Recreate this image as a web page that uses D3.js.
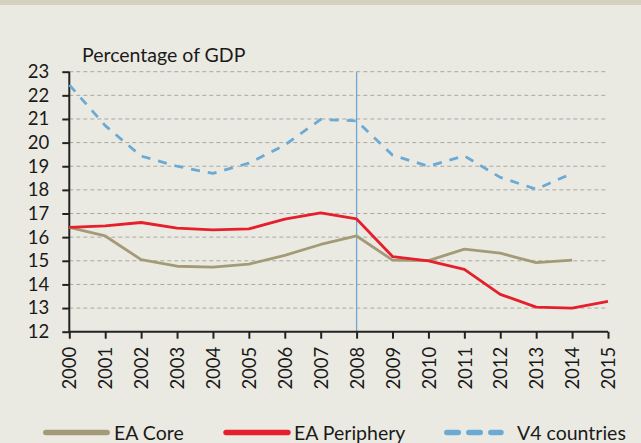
<!DOCTYPE html>
<html>
<head>
<meta charset="utf-8">
<script src="https://cdn.jsdelivr.net/npm/d3@7"></script>
<style>
  html, body { margin: 0; padding: 0; background: #ebeae2; }
  svg text { font-family: Lato, "Open Sans", sans-serif; fill: #1a1a1a; }
</style>
</head>
<body>
<div id="chart"></div>
<script>
const years = [2000, 2001, 2002, 2003, 2004, 2005, 2006, 2007, 2008, 2009, 2010, 2011, 2012, 2013, 2014, 2015];
const eaCore = [16.41, 16.05, 15.05, 14.77, 14.73, 14.86, 15.23, 15.69, 16.05, 15.03, 15.01, 15.49, 15.32, 14.92, 15.03, null];
const eaPeriphery = [16.41, 16.48, 16.62, 16.38, 16.31, 16.35, 16.76, 17.03, 16.77, 15.18, 15.0, 14.64, 13.58, 13.04, 13.0, 13.28];
const v4 = [22.44, 20.72, 19.43, 19.0, 18.7, 19.13, 19.9, 20.98, 20.92, 19.47, 19.0, 19.44, 18.53, 18.03, 18.7, null];
const yTicks = [12, 13, 14, 15, 16, 17, 18, 19, 20, 21, 22, 23];
const markerYear = 2008;

const W = 641, H = 443;
const mLeft = 69.3, mRight = 608, mTop = 71.7, mBottom = 331.7;
const font = "Lato, sans-serif";

const svg = d3.select("#chart").append("svg")
  .attr("width", W).attr("height", H);

svg.append("rect").attr("width", W).attr("height", H).attr("fill", "#ebeae2");
svg.append("rect").attr("width", W).attr("height", 5).attr("fill", "#d4d1bf");

const x = d3.scaleLinear().domain([2000, 2015]).range([mLeft, mRight]);
const y = d3.scaleLinear().domain([12, 23]).range([mBottom, mTop]);

// gridlines
svg.append("g")
  .selectAll("line")
  .data(yTicks.filter(d => d > 12))
  .enter().append("line")
  .attr("x1", mLeft).attr("x2", mRight)
  .attr("y1", d => y(d)).attr("y2", d => y(d))
  .attr("stroke", "#a8a7a2")
  .attr("stroke-width", 1)
  .attr("stroke-dasharray", "4,3");

// 2008 marker
svg.append("line")
  .attr("x1", x(markerYear)).attr("x2", x(markerYear))
  .attr("y1", y(23)).attr("y2", y(12))
  .attr("stroke", "#6fa6d6").attr("stroke-width", 1.3);

// y axis
const yAxis = d3.axisLeft(y).tickValues(yTicks).tickSize(7).tickPadding(13);
const gy = svg.append("g").attr("transform", `translate(${mLeft},0)`).call(yAxis);
gy.attr("font-size", null).attr("font-family", null);
gy.select(".domain").attr("stroke", "#222").attr("stroke-width", 2).attr("d", `M0,${mTop}V${mBottom}`);
gy.selectAll(".tick line").attr("stroke", "#222").attr("stroke-width", 2);
gy.selectAll(".tick text").style("font-size", "18.5px").style("font-family", font).attr("fill", "#1a1a1a");

// x axis
const xAxis = d3.axisBottom(x).tickValues(years).tickFormat(d3.format("d")).tickSize(7);
const gx = svg.append("g").attr("transform", `translate(0,${mBottom})`).call(xAxis);
gx.attr("font-size", null).attr("font-family", null);
gx.select(".domain").attr("stroke", "#222").attr("stroke-width", 2).attr("d", `M${mLeft},0H${mRight}`);
gx.selectAll(".tick line").attr("stroke", "#222").attr("stroke-width", 2);
gx.selectAll(".tick text")
  .style("font-size", "18.5px").style("font-family", font).attr("fill", "#1a1a1a")
  .attr("transform", "rotate(-90)")
  .attr("text-anchor", "end")
  .attr("x", -15).attr("y", 0).attr("dy", "0.36em");

// title
svg.append("text")
  .attr("x", 82).attr("y", 62)
  .style("font-size", "19.5px")
  .text("Percentage of GDP");

const line = d3.line()
  .defined(d => d.v != null)
  .x(d => x(d.year))
  .y(d => y(d.v));

const series = [
  { name: "EA Core", values: eaCore, color: "#a39b78", dash: null },
  { name: "EA Periphery", values: eaPeriphery, color: "#e51f2b", dash: null },
  { name: "V4 countries", values: v4, color: "#6aaad4", dash: "9,8" }
];

svg.append("g").selectAll("path")
  .data(series)
  .enter().append("path")
  .attr("d", s => line(years.map((yr, i) => ({ year: yr, v: s.values[i] }))))
  .attr("fill", "none")
  .attr("stroke", s => s.color)
  .attr("stroke-width", 2.8)
  .attr("stroke-linejoin", "round")
  .attr("stroke-dasharray", s => s.dash);

// legend
const legendItems = [
  { s: series[0], x1: 45.8, x2: 107.2, tx: 114 },
  { s: series[1], x1: 226, x2: 288, tx: 294 },
  { s: series[2], x1: 446.8, x2: 501, tx: 517 }
];
const lg = svg.append("g");
lg.selectAll("line")
  .data(legendItems)
  .enter().append("line")
  .attr("x1", d => d.x1).attr("x2", d => d.x2)
  .attr("y1", 432.5).attr("y2", 432.5)
  .attr("stroke", d => d.s.color)
  .attr("stroke-width", 5.4)
  .attr("stroke-linecap", "round")
  .attr("stroke-dasharray", d => d.s.dash ? "11.5,10.5" : null);
lg.selectAll("text")
  .data(legendItems)
  .enter().append("text")
  .attr("x", d => d.tx).attr("y", 432.5)
  .attr("dy", "0.36em")
  .style("font-size", "19.5px")
  .text(d => d.s.name);
</script>
</body>
</html>
